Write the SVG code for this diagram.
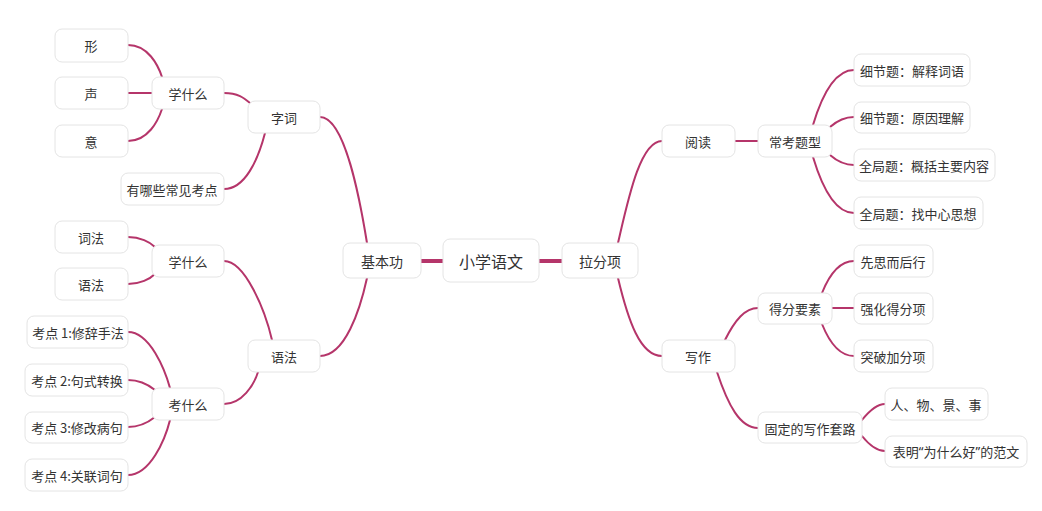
<svg xmlns="http://www.w3.org/2000/svg" width="1042" height="511" viewBox="0 0 1042 511">
<style>
.n rect{fill:#fff;stroke:#e4e4e4;stroke-width:1;}
.n text{font-family:"Noto Sans CJK SC","Noto Sans",sans-serif;font-size:13px;fill:#333;text-anchor:middle;dominant-baseline:central;}
.n text tspan.q{font-family:"Noto Sans",sans-serif;}
.m text{font-size:14px;}
.c text{font-size:16px;}
.e path{fill:none;stroke:#b5356a;stroke-width:2;stroke-linecap:round;}
.e path.t{stroke-width:4;stroke-linecap:butt;}
</style>
<rect width="1042" height="511" fill="#fff"/>
<g class="e" id="connectors">
<path class="t" d="M421,261 H443"/>
<path class="t" d="M539,261 H562"/>
<path d="M128,45 C148,45 158,65 162,77"/>
<path d="M128,93 H152"/>
<path d="M128,141 C148,141 158,121 162,109"/>
<path d="M224,93 C238,93 244,98 250,103"/>
<path d="M224,189 C245,189 258,160 265,133"/>
<path d="M320,117 C345,117 360,200 367,243"/>
<path d="M128,237 C140,237 150,242 155,247"/>
<path d="M128,284 C140,284 150,279 155,274"/>
<path d="M224,261 C245,261 265,310 272,340"/>
<path d="M128,332 C150,332 165,370 170,388"/>
<path d="M128,380 C140,380 150,386 155,390"/>
<path d="M128,427 C140,427 150,421 155,417"/>
<path d="M128,475 C150,475 165,440 170,420"/>
<path d="M224,404 C242,404 254,385 258,372"/>
<path d="M320,356 C345,356 360,310 367,278"/>
<path d="M618,243 C628,200 640,141 662,141"/>
<path d="M618,278 C628,320 640,356 662,356"/>
<path d="M735,141 H758"/>
<path d="M813,125 C822,95 835,70 854,70"/>
<path d="M830,127 C838,120 845,117 854,117"/>
<path d="M830,155 C838,162 845,165 854,165"/>
<path d="M813,157 C822,187 835,213 854,213"/>
<path d="M725,340 C735,320 745,308 758,308"/>
<path d="M717,372 C728,405 740,428 758,428"/>
<path d="M822,293 C830,273 840,261 854,261"/>
<path d="M832,308 H854"/>
<path d="M822,324 C830,344 840,356 854,356"/>
<path d="M862,420 C870,410 877,404 885,404"/>
<path d="M862,436 C870,446 877,451 885,451"/>
</g>
<g class="n c" id="root"><rect x="443" y="239" width="96" height="43" rx="7"/><text x="491" y="261">小学语文</text></g>
<g class="n m" id="jibengong"><rect x="343" y="243" width="78" height="35" rx="7"/><text x="382" y="261">基本功</text></g>
<g class="n m" id="lafenxiang"><rect x="562" y="243" width="76" height="35" rx="7"/><text x="600" y="261">拉分项</text></g>
<g class="n" id="zici"><rect x="248" y="101" width="72" height="32" rx="7"/><text x="284" y="117">字词</text></g>
<g class="n" id="xueshenme1"><rect x="152" y="77" width="72" height="32" rx="7"/><text x="188" y="93">学什么</text></g>
<g class="n" id="xing"><rect x="55" y="29" width="73" height="33" rx="7"/><text x="91" y="45">形</text></g>
<g class="n" id="sheng"><rect x="55" y="77" width="73" height="32" rx="7"/><text x="91" y="93">声</text></g>
<g class="n" id="yi"><rect x="55" y="125" width="73" height="32" rx="7"/><text x="91" y="141">意</text></g>
<g class="n" id="kaodian"><rect x="121" y="173" width="103" height="32" rx="7"/><text x="172" y="189">有哪些常见考点</text></g>
<g class="n" id="yufa"><rect x="248" y="340" width="72" height="32" rx="7"/><text x="284" y="356">语法</text></g>
<g class="n" id="xueshenme2"><rect x="152" y="245" width="72" height="32" rx="7"/><text x="188" y="261">学什么</text></g>
<g class="n" id="cifa"><rect x="55" y="221" width="73" height="32" rx="7"/><text x="91" y="237">词法</text></g>
<g class="n" id="yufa2"><rect x="55" y="268" width="73" height="32" rx="7"/><text x="91" y="284">语法</text></g>
<g class="n" id="kaoshenme"><rect x="152" y="388" width="72" height="32" rx="7"/><text x="188" y="404">考什么</text></g>
<g class="n" id="kd1"><rect x="27" y="316" width="101" height="32" rx="7"/><text x="78" y="332">考点 1:修辞手法</text></g>
<g class="n" id="kd2"><rect x="25" y="364" width="103" height="32" rx="7"/><text x="77" y="380">考点 2:句式转换</text></g>
<g class="n" id="kd3"><rect x="25" y="412" width="103" height="31" rx="7"/><text x="77" y="427">考点 3:修改病句</text></g>
<g class="n" id="kd4"><rect x="25" y="459" width="103" height="32" rx="7"/><text x="77" y="475">考点 4:关联词句</text></g>
<g class="n" id="yuedu"><rect x="662" y="125" width="73" height="32" rx="7"/><text x="698" y="141">阅读</text></g>
<g class="n" id="changkao"><rect x="758" y="125" width="74" height="32" rx="7"/><text x="795" y="141">常考题型</text></g>
<g class="n" id="x1"><rect x="854" y="54" width="116" height="32" rx="7"/><text x="912" y="70">细节题：解释词语</text></g>
<g class="n" id="x2"><rect x="854" y="102" width="116" height="31" rx="7"/><text x="912" y="117">细节题：原因理解</text></g>
<g class="n" id="q1"><rect x="854" y="149" width="141" height="32" rx="7"/><text x="924" y="165">全局题：概括主要内容</text></g>
<g class="n" id="q2"><rect x="854" y="197" width="129" height="32" rx="7"/><text x="918" y="213">全局题：找中心思想</text></g>
<g class="n" id="xiezuo"><rect x="662" y="340" width="73" height="32" rx="7"/><text x="698" y="356">写作</text></g>
<g class="n" id="defen"><rect x="758" y="293" width="74" height="31" rx="7"/><text x="795" y="308">得分要素</text></g>
<g class="n" id="xiansi"><rect x="854" y="245" width="79" height="32" rx="7"/><text x="893" y="261">先思而后行</text></g>
<g class="n" id="qianghua"><rect x="854" y="293" width="79" height="31" rx="7"/><text x="893" y="308">强化得分项</text></g>
<g class="n" id="tupo"><rect x="854" y="340" width="79" height="32" rx="7"/><text x="893" y="356">突破加分项</text></g>
<g class="n" id="guding"><rect x="758" y="412" width="104" height="31" rx="7"/><text x="810" y="428">固定的写作套路</text></g>
<g class="n" id="renwu"><rect x="885" y="388" width="103" height="32" rx="7"/><text x="936" y="404">人、物、景、事</text></g>
<g class="n" id="biaoming"><rect x="885" y="436" width="142" height="31" rx="7"/><text x="956" y="451">表明<tspan class="q">“</tspan>为什么好<tspan class="q">”</tspan>的范文</text></g>
</svg>
